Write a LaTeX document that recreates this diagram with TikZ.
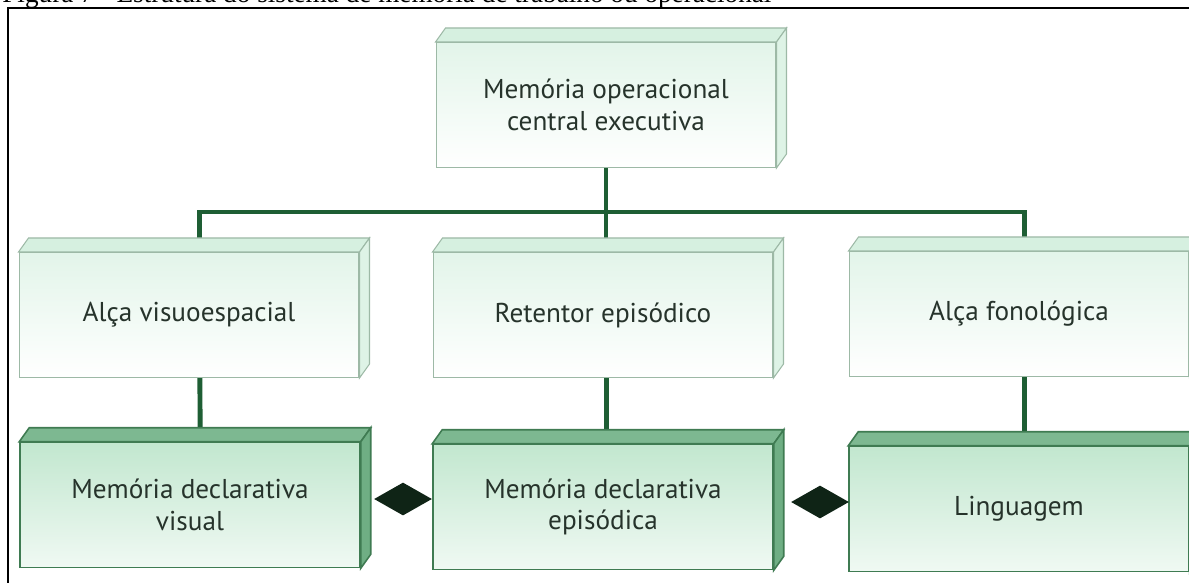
\documentclass[tikz,border=0pt]{standalone}
\usepackage{fontspec}
\setmainfont{PT Sans}
\newfontfamily\capfont{Liberation Serif}
\usetikzlibrary{shapes.geometric,backgrounds}
\definecolor{mint}{HTML}{D6F0E0}
\definecolor{lightedge}{HTML}{9DB9A6}
\definecolor{ink}{HTML}{26332B}
\definecolor{darktop}{HTML}{7DB891}
\definecolor{darkside}{HTML}{6FAE84}
\definecolor{darkedge}{HTML}{3F7B52}
\definecolor{darkfront}{HTML}{C2E7CF}
\definecolor{linkcol}{HTML}{1E5E34}
\definecolor{gemcol}{HTML}{0F2416}
\begin{document}
\begin{tikzpicture}[x=0.02cm, y=-0.02cm,
		box/.style={rectangle, minimum width=6.8cm, minimum height=2.5cm, align=center, text=ink, font=\fontsize{15.5}{18}\selectfont},
		light/.style={box, draw=lightedge, line width=0.6pt, top color=mint!70, bottom color=white},
		dark/.style={box, draw=darkedge, line width=0.9pt, top color=darkfront, bottom color=darkfront!25},
		link/.style={draw=linkcol, line width=2.8pt},
		gem/.style={diamond, fill=gemcol, minimum width=1.16cm, minimum height=0.66cm, inner sep=0pt}]
		\useasboundingbox (0,0) rectangle (1189,583);
		% caption and frame
		\node[anchor=base west, inner sep=0pt, font=\capfont\fontsize{15.5}{18}\selectfont] (cap) at (2,2.5) {Figura 7 - Estrutura do sistema de mem\'oria de trabalho ou operacional};
		\draw[line width=1.1pt] (1189,8) -- (8,8) -- (8,583);
		% boxes
		\node[light] (exec) at (606,105) {Mem\'oria operacional\\central executiva};
		\node[light] (vis) at (189,315) {Al\c{c}a visuoespacial};
		\node[light] (epi) at (603,315) {Retentor epis\'odico};
		\node[light] (fon) at (1019,314) {Al\c{c}a fonol\'ogica};
		\node[dark] (dvis) at (190,505) {Mem\'oria declarativa\\visual};
		\node[dark] (depi) at (603,507) {Mem\'oria declarativa\\epis\'odica};
		\node[dark] (ling) at (1019,509) {Linguagem};
		\node[gem] (g1) at (403,499) {};
		\node[gem] (g2) at (820,502) {};
		% box depth
		\foreach \n in {exec,vis,epi,fon} {
			\filldraw[fill=mint, draw=lightedge, line width=0.6pt] (\n.north west) -- ++(10,-14) -- ([shift={(10,-14)}]\n.north east) -- (\n.north east) -- cycle;
			\filldraw[fill=mint!80, draw=lightedge, line width=0.6pt] (\n.north east) -- ++(10,-14) -- ([shift={(10,-14)}]\n.south east) -- (\n.south east) -- cycle;
		}
		\foreach \n in {dvis,depi,ling} {
			\filldraw[fill=darktop, draw=darkedge, line width=0.9pt] (\n.north west) -- ++(10,-14) -- ([shift={(10,-14)}]\n.north east) -- (\n.north east) -- cycle;
			\filldraw[fill=darkside, draw=darkedge, line width=0.9pt] (\n.north east) -- ++(10,-14) -- ([shift={(10,-14)}]\n.south east) -- (\n.south east) -- cycle;
		}
		% connectors
		\begin{scope}[on background layer]
			\draw[link] (exec) -- (exec |- 0,212) coordinate (hub);
			\draw[link] (hub) -| ([xshift=6pt]vis.center);
			\draw[link] (hub) -| ([xshift=3pt]fon.center);
			\draw[link] (hub) -- (hub |- epi.center);
			\draw[link] ([xshift=6pt]vis.center) -- ([xshift=6pt]dvis.center);
			\draw[link] ([xshift=2pt]epi.center) -- ([xshift=2pt]depi.center);
			\draw[link] ([xshift=3pt]fon.center) -- ([xshift=3pt]ling.center);
		\end{scope}
	\end{tikzpicture}
\end{document}
